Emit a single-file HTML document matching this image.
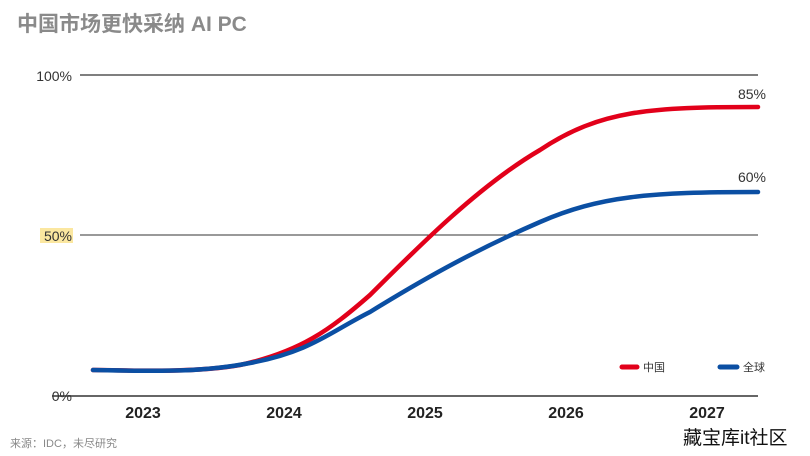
<!DOCTYPE html>
<html><head><meta charset="utf-8"><style>
body{margin:0;background:#fff;width:810px;height:451px;overflow:hidden;font-family:"Liberation Sans","Noto Sans CJK SC",sans-serif;}
</style></head><body>
<svg width="810" height="451" xmlns="http://www.w3.org/2000/svg" font-family="Liberation Sans, Noto Sans CJK SC, sans-serif">
<text x="17" y="31" font-size="21" font-weight="bold" fill="#8a8a8a">中国市场更快采纳 AI PC</text>
<line x1="80" y1="75" x2="758" y2="75" stroke="#555" stroke-width="1.5"/>
<line x1="80" y1="235" x2="758" y2="235" stroke="#333" stroke-width="1"/>
<line x1="52" y1="396" x2="758" y2="396" stroke="#666" stroke-width="2"/>
<text x="72" y="81" font-size="14" fill="#333" text-anchor="end">100%</text>
<rect x="40" y="228" width="33" height="15" fill="#fbe7a0"/>
<text x="72" y="241" font-size="14" fill="#333" text-anchor="end">50%</text>
<text x="72" y="401" font-size="14" fill="#333" text-anchor="end">0%</text>
<g font-size="16" font-weight="bold" fill="#222" text-anchor="middle">
<text x="143" y="418">2023</text><text x="284" y="418">2024</text><text x="425" y="418">2025</text><text x="566" y="418">2026</text><text x="707" y="418">2027</text></g>
<path d="M93,370 C150,371 200,372 240,365 C300,352 330,330 370,295 C420,245 480,185 540,150 C600,110 650,107 758,107" fill="none" stroke="#e2001a" stroke-width="4.5" stroke-linecap="round"/>
<path d="M93,370 C150,371 200,373 250,363 C310,352 330,332 370,312 C430,275 480,248 540,222 C600,196 650,192 758,192" fill="none" stroke="#0b4fa3" stroke-width="4.5" stroke-linecap="round"/>
<text x="752" y="99" font-size="14" fill="#333" text-anchor="middle">85%</text>
<text x="752" y="182" font-size="14" fill="#333" text-anchor="middle">60%</text>
<line x1="622" y1="367" x2="637" y2="367" stroke="#e2001a" stroke-width="5" stroke-linecap="round"/>
<text x="643" y="371" font-size="11" fill="#333">中国</text>
<line x1="720" y1="367" x2="737" y2="367" stroke="#0b4fa3" stroke-width="5" stroke-linecap="round"/>
<text x="743" y="371" font-size="11" fill="#333">全球</text>
<text x="10" y="447" font-size="11" fill="#888">来源：IDC，未尽研究</text>
<text x="683" y="444" font-size="19" fill="#111">藏宝库it社区</text>
</svg>
</body></html>
